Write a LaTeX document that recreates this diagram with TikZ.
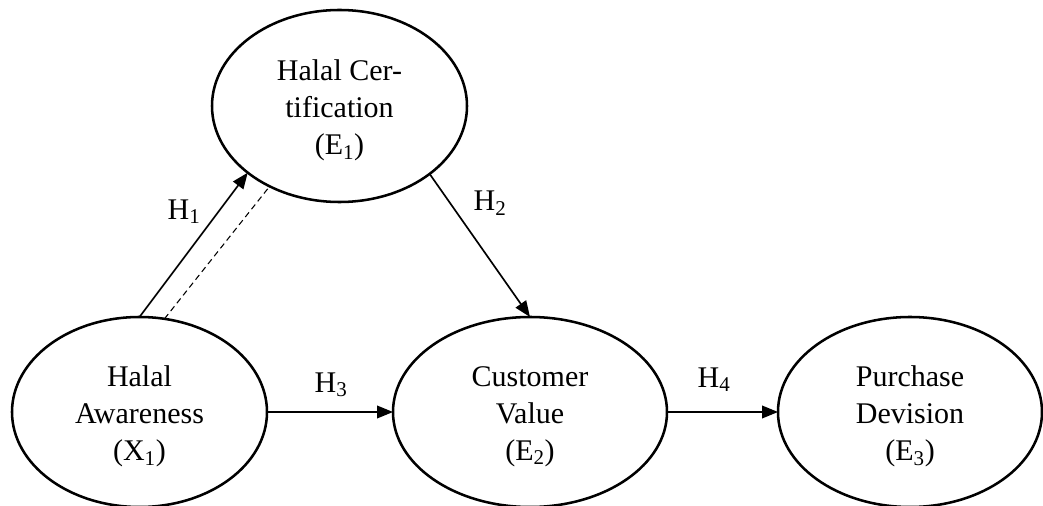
\documentclass[tikz,border=0pt]{standalone}
\usepackage{fontspec}
\setmainfont{Liberation Serif}
\usetikzlibrary{shapes.geometric,arrows.meta}
\begin{document}
\begin{tikzpicture}[x=0.75pt,y=-0.75pt,
  txt/.style={font=\fontsize{22.5}{27.75}\selectfont, align=center, inner sep=0pt},
  latent/.style={ellipse, draw, line width=1.9pt, inner sep=0pt, outer sep=0pt},
  lbl/.style={font=\fontsize{22.5}{27.75}\selectfont, inner sep=0pt},
  arr/.style={line width=1.25pt, -{Triangle[length=12pt, width=9.5pt]}},
  dashline/.style={line width=0.8pt, dash pattern=on 4.5pt off 3pt}
]
\useasboundingbox (0,0) rectangle (1043,506);
\node[latent, minimum width=191.25pt, minimum height=144pt,
  label={[txt, yshift=-3.5pt]center:Halal Cer-\\tification\\(E\textsubscript{1})}] (E1) at (339.5,106) {};
\node[latent, minimum width=191.25pt, minimum height=142.5pt,
  label={[txt, yshift=-3.5pt]center:Halal\\Awareness\\(X\textsubscript{1})}] (X1) at (139.5,412) {};
\node[latent, minimum width=205.5pt, minimum height=142.5pt,
  label={[txt, yshift=-3.5pt]center:Customer\\Value\\(E\textsubscript{2})}] (E2) at (530,412) {};
\node[latent, minimum width=198pt, minimum height=142.5pt,
  label={[txt, yshift=-3.5pt]center:Purchase\\Devision\\(E\textsubscript{3})}] (E3) at (910,412) {};

\draw[arr] (X1.north) -- (E1.216.7);
\draw[dashline] (X1.75) -- (E1.229);
\draw[arr] (E1.323.5) -- (E2.north);
\draw[arr] (X1.east) -- (E2.west);
\draw[arr] (E2.east) -- (E3.west);

\node[lbl] (h1) at (184,212) {H\textsubscript{1}};
\node[lbl] (h2) at (490,203) {H\textsubscript{2}};
\node[lbl] (h3) at (331,385) {H\textsubscript{3}};
\node[lbl] (h4) at (714,380) {H\textsubscript{4}};
\end{tikzpicture}
\end{document}
